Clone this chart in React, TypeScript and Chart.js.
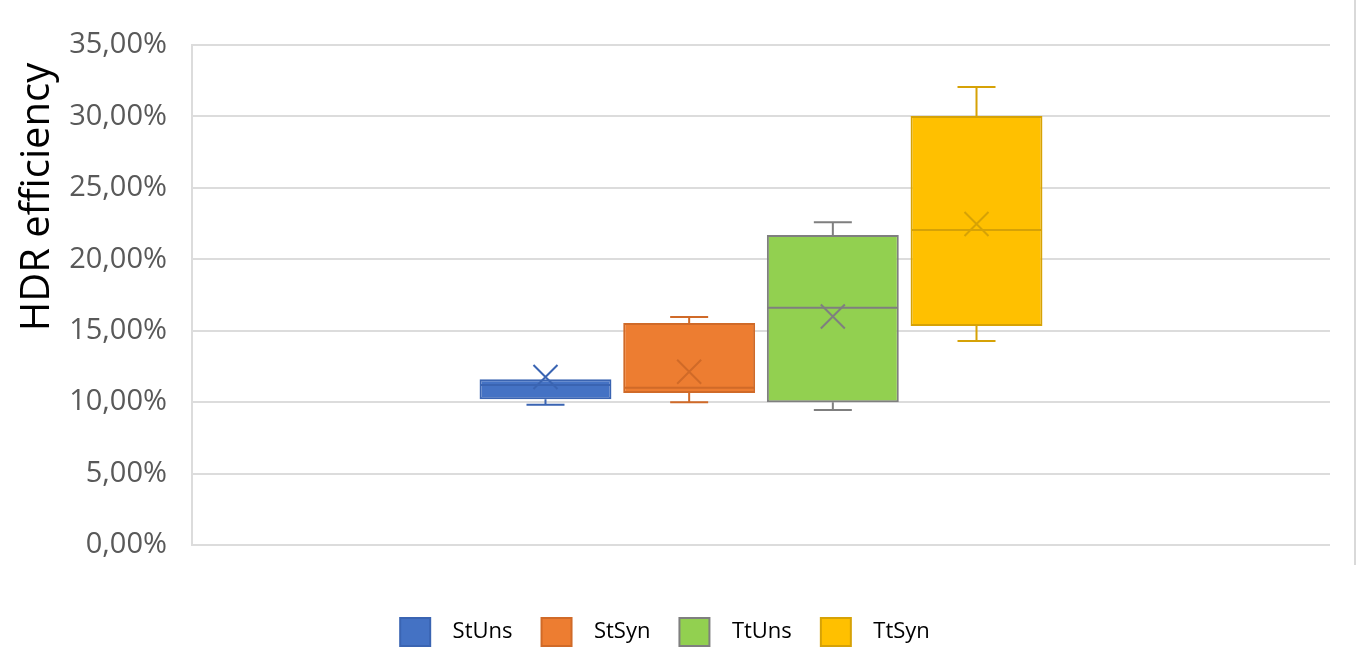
import React, { useEffect, useRef } from 'react';
import { Chart, registerables } from 'chart.js';

Chart.register(...registerables);

// ---- data ----
const categories = ['StUns', 'StSyn', 'TtUns', 'TtSyn'];
const minValues = [9.82, 10.0, 9.45, 14.28];
const q1Values = [10.2, 10.64, 10.0, 15.33];
const medianValues = [11.2, 11.0, 16.6, 22.05];
const q3Values = [11.6, 15.54, 21.7, 30.03];
const maxValues = [11.6, 15.96, 22.6, 32.06];
const meanValues = [11.76, 12.13, 16.0, 22.47];
const yTickValues = [0, 5, 10, 15, 20, 25, 30, 35];
const yTitle = 'HDR efficiency';

// ---- styles ----
const fillColors = ['#4472C4', '#ED7D31', '#92D050', '#FFC000'];
const lineColors = ['#3A64B2', '#D06A28', '#7F7F7F', '#D6A206'];

const boxExtras = {
  id: 'boxExtras',
  afterDatasetsDraw(chart: any) {
    const ctx = chart.ctx;
    const yScale = chart.scales.y;
    chart.data.datasets.forEach((ds: any, i: number) => {
      const meta = chart.getDatasetMeta(i);
      const bar = meta.data[0];
      if (!bar) return;
      const { x, width } = bar.getProps(['x', 'width'], true);
      const color = lineColors[i];
      const cap = 38;
      const yMin = yScale.getPixelForValue(minValues[i]);
      const yQ1 = yScale.getPixelForValue(q1Values[i]);
      const yQ3 = yScale.getPixelForValue(q3Values[i]);
      const yMax = yScale.getPixelForValue(maxValues[i]);
      const yMed = yScale.getPixelForValue(medianValues[i]);
      const yMean = yScale.getPixelForValue(meanValues[i]);
      ctx.save();
      ctx.strokeStyle = color;
      ctx.lineWidth = 2;
      ctx.beginPath();
      // lower whisker
      if (Math.abs(yMin - yQ1) > 1) {
        ctx.moveTo(x, yQ1);
        ctx.lineTo(x, yMin);
        ctx.moveTo(x - cap / 2, yMin);
        ctx.lineTo(x + cap / 2, yMin);
      }
      // upper whisker
      if (Math.abs(yMax - yQ3) > 1) {
        ctx.moveTo(x, yQ3);
        ctx.lineTo(x, yMax);
        ctx.moveTo(x - cap / 2, yMax);
        ctx.lineTo(x + cap / 2, yMax);
      }
      // median
      ctx.moveTo(x - width / 2 + 1, yMed);
      ctx.lineTo(x + width / 2 - 1, yMed);
      ctx.stroke();
      // mean marker (X)
      const r = 12;
      ctx.beginPath();
      ctx.moveTo(x - r, yMean - r);
      ctx.lineTo(x + r, yMean + r);
      ctx.moveTo(x + r, yMean - r);
      ctx.lineTo(x - r, yMean + r);
      ctx.stroke();
      ctx.restore();
    });
  },
  afterDraw(chart: any) {
    const ctx = chart.ctx;
    ctx.save();
    // y-axis title
    ctx.translate(38, 197);
    ctx.rotate(-Math.PI / 2);
    ctx.font = '40px "Open Sans"';
    ctx.fillStyle = '#000000';
    ctx.textAlign = 'center';
    ctx.textBaseline = 'middle';
    ctx.fillText(yTitle, 0, 0);
    ctx.restore();
    // right frame line
    ctx.save();
    ctx.strokeStyle = '#d9d9d9';
    ctx.lineWidth = 2;
    ctx.beginPath();
    ctx.moveTo(1355, 0);
    ctx.lineTo(1355, 565);
    ctx.stroke();
    ctx.restore();
  },
};

export default function App() {
  const canvasRef = useRef<HTMLCanvasElement | null>(null);

  useEffect(() => {
    const canvas = canvasRef.current;
    if (!canvas) return;
    const chart = new Chart(canvas, {
      type: 'bar',
      data: {
        labels: [''],
        datasets: categories.map((name, i) => ({
          label: '  ' + name,
          data: [[q1Values[i], q3Values[i]]] as any,
          backgroundColor: fillColors[i],
          borderColor: lineColors[i],
          borderWidth: 2,
          borderSkipped: false,
          categoryPercentage: 0.505,
          barPercentage: 0.918,
        })),
      },
      options: {
        responsive: false,
        animation: false,
        layout: { padding: { left: 0, top: 45, right: 28, bottom: -9 } },
        plugins: {
          tooltip: { enabled: false },
          title: { display: false },
          legend: {
            position: 'bottom',
            labels: {
              boxWidth: 30,
              boxHeight: 28,
              padding: 29,
              color: '#000000',
              font: { family: '"Open Sans"', size: 22 },
            },
          },
        },
        scales: {
          x: {
            grid: { display: false },
            border: { display: false },
            ticks: { display: false },
            afterFit: (s: any) => {
              s.height = 44;
            },
          },
          y: {
            min: 0,
            max: 35,
            afterBuildTicks: (s: any) => {
              s.ticks = yTickValues.map((v) => ({ value: v }));
            },
            afterFit: (s: any) => {
              s.width = 192;
            },
            grid: { color: '#dcdcdc', lineWidth: 2, drawTicks: false },
            border: { display: true, color: '#dcdcdc', width: 2 },
            ticks: {
              padding: 25,
              color: '#595959',
              font: { family: '"Open Sans"', size: 29 },
              callback: (v: any) => Number(v).toFixed(2).replace('.', ',') + '%',
            },
          },
        },
      },
      plugins: [boxExtras],
    });
    return () => chart.destroy();
  }, []);

  return (
    <div style={{ position: 'fixed', left: 0, top: 0, width: 1358, height: 647, background: '#ffffff' }}>
      <canvas ref={canvasRef} width={1358} height={647} />
    </div>
  );
}
